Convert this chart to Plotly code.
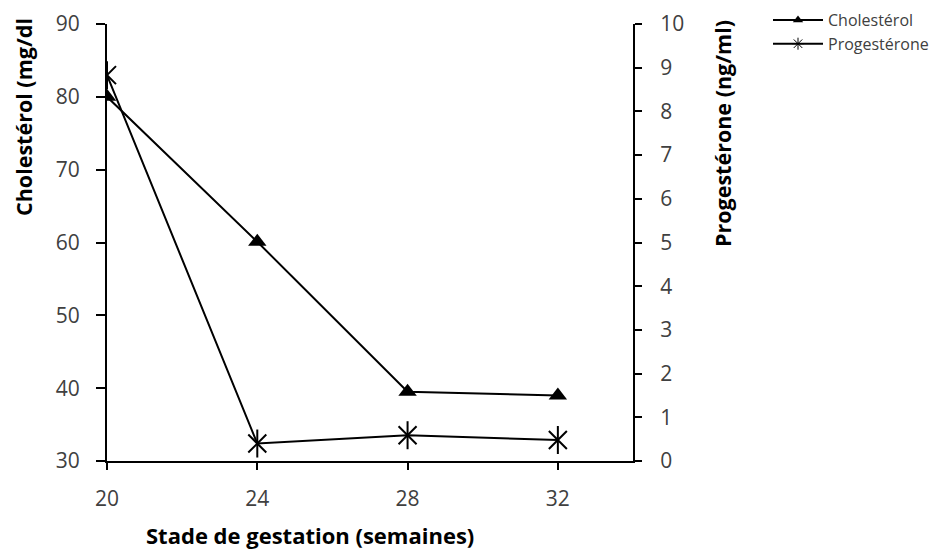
import plotly.graph_objects as go

# ---- data ----
weeks = [20, 24, 28, 32]
cholesterol = [80.0, 60.1, 39.5, 39.0]       # mg/dl (left axis)
progesterone = [8.83, 0.40, 0.59, 0.48]      # ng/ml (right axis)
x_ticks = [20, 24, 28, 32]
left_ticks = [30, 40, 50, 60, 70, 80, 90]
right_ticks = list(range(0, 11))

W, H = 945, 550
L, R, T, B = 107, 633, 24, 461   # plot area pixel box
FONT = "Open Sans"

def px_x(p):
    return (p - L) / (R - L)

def px_y(p):
    return (B - p) / (B - T)

fig = go.Figure()

fig.add_trace(go.Scatter(
    x=weeks, y=cholesterol, name="Cholestérol", mode="lines+markers",
    line=dict(color="black", width=2), showlegend=False,
    marker=dict(symbol="triangle-up", size=16, color="black"),
    yaxis="y",
))
fig.add_trace(go.Scatter(
    x=weeks, y=progesterone, name="Progestérone", mode="lines+markers",
    line=dict(color="black", width=2), showlegend=False,
    marker=dict(symbol="x-thin-open", size=18, color="black",
                line=dict(color="black", width=2)),
    yaxis="y2",
))
fig.add_trace(go.Scatter(
    x=weeks, y=progesterone, mode="markers", showlegend=False,
    marker=dict(symbol="line-ns-open", size=20, color="black",
                line=dict(color="black", width=2)),
    yaxis="y2", hoverinfo="skip",
))
# legend-only entries (smaller markers, as in the reference legend)
fig.add_trace(go.Scatter(
    x=[None], y=[None], name="Cholestérol", mode="lines+markers",
    line=dict(color="black", width=2),
    marker=dict(symbol="triangle-up", size=9, color="black"),
))
fig.add_trace(go.Scatter(
    x=[None], y=[None], name="Progestérone", mode="lines+markers",
    line=dict(color="black", width=2),
    marker=dict(symbol="asterisk-open", size=10, color="black",
                line=dict(color="black", width=1)),
))

axis_common = dict(
    showgrid=False, zeroline=False, showline=True, linecolor="black",
    linewidth=2, ticks="outside", tickcolor="black", tickwidth=2,
    tickfont=dict(family=FONT, size=21, color="#404040"),
)

fig.update_layout(
    width=W, height=H,
    margin=dict(l=L, r=W - R, t=T, b=H - B, pad=0, autoexpand=False),
    paper_bgcolor="white", plot_bgcolor="white",
    font=dict(family=FONT, color="black"),
    xaxis=dict(range=[20, 34], tickvals=x_ticks, ticklen=7,
               ticklabelstandoff=11, **axis_common),
    yaxis=dict(range=[30, 90], tickvals=left_ticks, ticklen=9,
               ticklabelstandoff=12, **axis_common),
    yaxis2=dict(range=[0, 10], tickvals=right_ticks, ticklen=7,
                overlaying="y", side="right", anchor="x",
                ticklabelstandoff=14, **axis_common),
    legend=dict(x=px_x(768), y=px_y(3), xanchor="left", yanchor="top",
                font=dict(family=FONT, size=16, color="#404040"),
                itemwidth=50, tracegroupgap=0, bgcolor="rgba(0,0,0,0)"),
    showlegend=True,
)

fig.add_annotation(text="<b>Cholestérol (mg/dl</b>", xref="paper", yref="paper",
                   x=px_x(24), y=px_y(117), xanchor="center", yanchor="middle",
                   textangle=-90, showarrow=False,
                   font=dict(family=FONT, size=21.5, color="black"))
fig.add_annotation(text="<b>Progestérone (ng/ml)</b>", xref="paper", yref="paper",
                   x=px_x(722), y=px_y(134), xanchor="center", yanchor="middle",
                   textangle=-90, showarrow=False,
                   font=dict(family=FONT, size=21.5, color="black"))
fig.add_annotation(text="<b>Stade de gestation (semaines)</b>", xref="paper", yref="paper",
                   x=px_x(310), y=px_y(535), xanchor="center", yanchor="middle",
                   showarrow=False,
                   font=dict(family=FONT, size=22, color="black"))

fig.write_html("out.html", config={"displayModeBar": False},
               post_script="document.body.style.margin='0';document.body.style.padding='0';")
